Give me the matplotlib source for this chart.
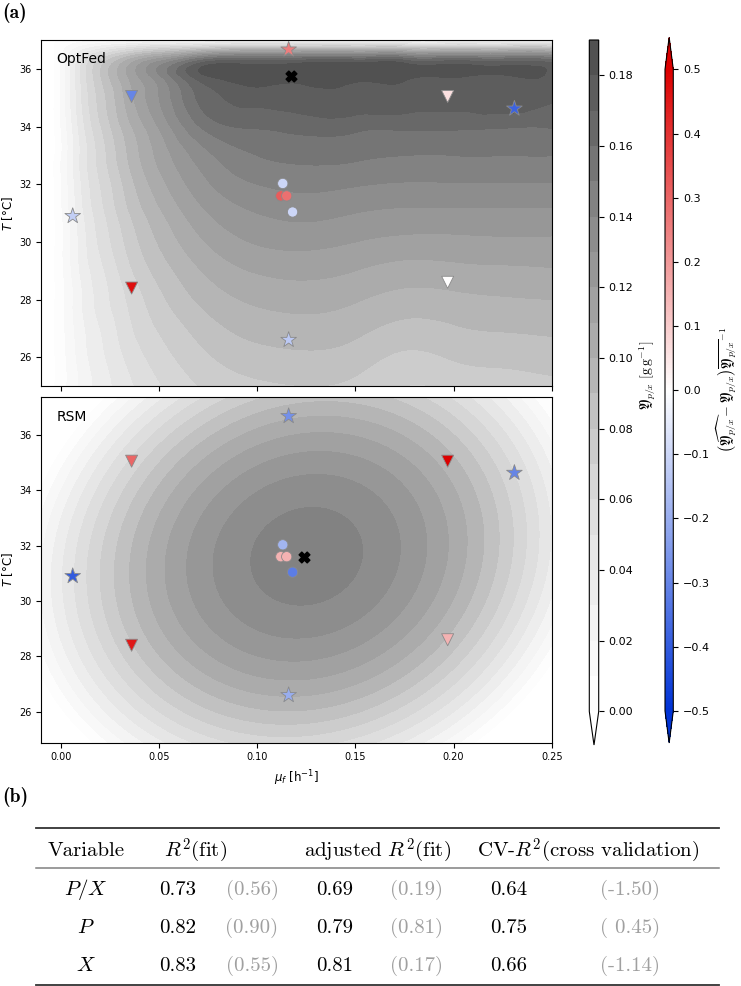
import numpy as np
import matplotlib.pyplot as plt
import matplotlib.tri as mtri
from matplotlib.colors import ListedColormap, LinearSegmentedColormap, Normalize
from matplotlib.cm import ScalarMappable

# OptFed yield surface (rows: T, columns: mu_f)
mu_opt = [-0.01, 0.0, 0.01, 0.02, 0.035, 0.05, 0.075, 0.10, 0.125, 0.15, 0.175, 0.20, 0.225, 0.25]
T_opt = [25, 26, 27, 28, 29, 30, 31, 32, 33, 34, 35, 35.75, 36.3, 36.7, 37.0]
yield_opt = [
    [-0.008, 0.005, 0.022, 0.034, 0.048, 0.059, 0.072, 0.078, 0.080, 0.077, 0.070, 0.072, 0.075, 0.077],
    [-0.009, 0.005, 0.024, 0.037, 0.053, 0.065, 0.079, 0.086, 0.088, 0.085, 0.078, 0.081, 0.083, 0.085],
    [-0.010, 0.006, 0.026, 0.040, 0.058, 0.071, 0.086, 0.094, 0.096, 0.093, 0.087, 0.089, 0.091, 0.092],
    [-0.010, 0.006, 0.028, 0.044, 0.062, 0.077, 0.094, 0.102, 0.104, 0.101, 0.096, 0.097, 0.099, 0.100],
    [-0.011, 0.007, 0.031, 0.047, 0.068, 0.084, 0.102, 0.111, 0.113, 0.110, 0.106, 0.107, 0.108, 0.109],
    [-0.012, 0.007, 0.033, 0.052, 0.074, 0.091, 0.111, 0.121, 0.123, 0.120, 0.117, 0.117, 0.118, 0.118],
    [-0.013, 0.008, 0.036, 0.056, 0.080, 0.098, 0.120, 0.130, 0.133, 0.130, 0.128, 0.128, 0.128, 0.128],
    [-0.014, 0.009, 0.039, 0.060, 0.086, 0.106, 0.129, 0.140, 0.143, 0.141, 0.139, 0.139, 0.139, 0.139],
    [-0.015, 0.009, 0.041, 0.064, 0.092, 0.113, 0.138, 0.150, 0.153, 0.152, 0.150, 0.150, 0.150, 0.150],
    [-0.016, 0.010, 0.044, 0.069, 0.098, 0.121, 0.154, 0.161, 0.164, 0.163, 0.162, 0.162, 0.161, 0.161],
    [-0.018, 0.011, 0.048, 0.074, 0.106, 0.130, 0.166, 0.174, 0.176, 0.176, 0.175, 0.174, 0.173, 0.172],
    [-0.019, 0.011, 0.050, 0.079, 0.112, 0.138, 0.180, 0.186, 0.187, 0.187, 0.185, 0.181, 0.178, 0.176],
    [-0.017, 0.010, 0.046, 0.072, 0.103, 0.127, 0.165, 0.169, 0.172, 0.172, 0.171, 0.169, 0.166, 0.164],
    [-0.010, 0.006, 0.026, 0.040, 0.057, 0.070, 0.086, 0.093, 0.095, 0.095, 0.094, 0.093, 0.092, 0.091],
    [-0.002, 0.001, 0.005, 0.008, 0.012, 0.015, 0.018, 0.020, 0.020, 0.020, 0.020, 0.020, 0.020, 0.020],
]

# RSM quadratic model (coded: u=(mu-mu_c)/0.1, w=(T-T_c)/5)
rsm_center = [0.123, 31.6]
rsm_coef = {'b0': 0.1455, 'bu': 0.003, 'bw': 0.0, 'buu': -0.069, 'bww': -0.045, 'buw': 0.012}

# experiments
mu_exp = [0.006, 0.116, 0.116, 0.231, 0.036, 0.036, 0.197, 0.197, 0.113, 0.112, 0.115, 0.118]
T_exp = [30.9, 36.68, 26.6, 34.63, 35.05, 28.4, 35.05, 28.6, 32.03, 31.6, 31.6, 31.04]
kind_exp = ['*', '*', '*', '*', 'v', 'v', 'v', 'v', 'o', 'o', 'o', 'o']
err_opt = [-0.12, 0.25, -0.13, -0.38, -0.30, 0.47, 0.06, 0.0, -0.10, 0.32, 0.28, -0.10]
err_rsm = [-0.40, -0.27, -0.20, -0.30, 0.30, 0.45, 0.50, 0.15, -0.18, 0.15, 0.15, -0.32]
opt_opt = [0.1173, 35.77]
opt_rsm = [0.1239, 31.6]

# table (b)
tab_vars = [r'$P/X$', r'$P$', r'$X$']
r2_fit = [0.73, 0.82, 0.83]
r2_fit_ref = [0.56, 0.90, 0.55]
r2_adj = [0.69, 0.79, 0.81]
r2_adj_ref = [0.19, 0.81, 0.17]
r2_cv = [0.64, 0.75, 0.66]
r2_cv_ref = [-1.50, 0.45, -1.14]

W, H = 741, 986
fig = plt.figure(figsize=(W / 100, H / 100), dpi=100)

# overlay for panel letters and table, pixel coords
ov = fig.add_axes([0, 0, 1, 1])
ov.set_xlim(0, W)
ov.set_ylim(H, 0)
ov.axis('off')

ax1 = fig.add_axes([41.3 / W, 1 - 386 / H, 510.4 / W, 345.7 / H])
ax2 = fig.add_axes([41.3 / W, 1 - 742.7 / H, 510.4 / W, 346 / H], sharex=ax1)

g = plt.cm.Greys(np.linspace(0, 1, 256))
g[:, :3] = 1 - 0.7 * (1 - g[:, :3])
grey_cmap = ListedColormap(g)
grey_cmap.set_under('white')
err_cmap = LinearSegmentedColormap.from_list('err', ['#0033d6', '#ffffff', '#dc0000'])
err_norm = Normalize(-0.5, 0.5)
levels = np.linspace(0, 0.19, 20)

# smooth the OptFed table with matplotlib's own triangulation refiner
MU, TT = np.meshgrid(mu_opt, T_opt)
tri_n = mtri.Triangulation(MU.ravel() / 0.26, TT.ravel() / 12.0)
z = np.array(yield_opt).ravel()
interp = mtri.CubicTriInterpolator(tri_n, z, kind='min_E')
tri_r, z_r = mtri.UniformTriRefiner(tri_n).refine_field(z, triinterpolator=interp, subdiv=4)
tri_r = mtri.Triangulation(tri_r.x * 0.26, tri_r.y * 12.0, tri_r.triangles)
cs = ax1.tricontourf(tri_r, np.minimum(z_r, 0.1895), levels=levels, cmap=grey_cmap, extend='min')

mu_g, T_g = np.meshgrid(np.linspace(-0.01, 0.25, 300), np.linspace(24.88, 37.38, 300))
u = (mu_g - rsm_center[0]) / 0.1
w = (T_g - rsm_center[1]) / 5
c = rsm_coef
yield_rsm = c['b0'] + c['bu'] * u + c['bw'] * w + c['buu'] * u ** 2 + c['bww'] * w ** 2 + c['buw'] * u * w
ax2.contourf(mu_g, T_g, yield_rsm, levels=levels, cmap=grey_cmap, extend='min')

sizes = {'*': 140, 'v': 75, 'o': 55}
for ax, err, opt in [(ax1, err_opt, opt_opt), (ax2, err_rsm, opt_rsm)]:
    for m in ['*', 'v', 'o']:
        idx = [i for i, k in enumerate(kind_exp) if k == m]
        ax.scatter([mu_exp[i] for i in idx], [T_exp[i] for i in idx], c=[err[i] for i in idx],
                   cmap=err_cmap, norm=err_norm, marker=m, s=sizes[m],
                   edgecolors='#8a8a8a', linewidths=0.6, zorder=3)
    ax.scatter([opt[0]], [opt[1]], marker='X', s=60, color='black', zorder=4)
    ax.tick_params(labelsize=7)
    ax.set_ylabel(r'$T$ [°C]', fontsize=8.5, labelpad=3)

ax1.set_xlim(-0.01, 0.25)
ax1.set_ylim(25, 37)
ax2.set_ylim(24.88, 37.38)
ax1.set_yticks([26, 28, 30, 32, 34, 36])
ax2.set_yticks([26, 28, 30, 32, 34, 36])
ax2.set_xticks([0.0, 0.05, 0.10, 0.15, 0.20, 0.25])
ax1.tick_params(labelbottom=False)
ax2.set_xlabel(r'$\mu_f$ [h$^{-1}$]', fontsize=8.5)
ax1.text(0.03, 0.965, 'OptFed', transform=ax1.transAxes, fontsize=10, va='top')
ax2.text(0.03, 0.962, 'RSM', transform=ax2.transAxes, fontsize=10, va='top')

# colorbars
cax1 = fig.add_axes([589.3 / W, 1 - 745 / H, 9.4 / W, 705 / H])
cb1 = fig.colorbar(cs, cax=cax1, ticks=[0.0, 0.02, 0.04, 0.06, 0.08, 0.10, 0.12, 0.14, 0.16, 0.18])
cb1.ax.tick_params(labelsize=8)
cb1.set_label(r'$\mathfrak{Y}_{p/x}\ [\mathrm{g\,g^{-1}}]$', fontsize=10, math_fontfamily='cm', labelpad=3)

cax2 = fig.add_axes([665 / W, 1 - 743 / H, 8.3 / W, 705.7 / H])
cb2 = fig.colorbar(ScalarMappable(norm=err_norm, cmap=err_cmap), cax=cax2, extend='both',
                   ticks=[-0.5, -0.4, -0.3, -0.2, -0.1, 0.0, 0.1, 0.2, 0.3, 0.4, 0.5])
cb2.ax.tick_params(labelsize=8)
cb2.set_label(r'$\left(\widehat{\mathfrak{Y}_{p/x}} - \mathfrak{Y}_{p/x}\right)\overline{\mathfrak{Y}_{p/x}}^{-1}$',
              fontsize=10, math_fontfamily='cm', labelpad=3)

# panel letters
ov.text(2, 3, '(a)', fontfamily='cmb10', fontsize=14, va='top', ha='left')
ov.text(2, 797, '(b)', fontfamily='cmb10', fontsize=14, va='center', ha='left')

# table
tk = dict(fontfamily='cmr10', math_fontfamily='cm', fontsize=15, va='center', ha='center')
ov.plot([36, 719], [828, 828], color='#333333', lw=1.3)
ov.plot([36, 719], [868, 868], color='#808080', lw=1.1)
ov.plot([36, 719], [985, 985], color='#333333', lw=1.3)
ov.text(86, 851, 'Variable', **tk)
ov.text(196, 851, r'$R^2$(fit)', **tk)
ov.text(378, 851, r'adjusted $R^2$(fit)', **tk)
ov.text(588, 851, r'CV-$R^2$(cross validation)', **tk)
row_y = [890, 928, 966]
for i in range(3):
    y = row_y[i]
    ov.text(86, y, tab_vars[i], **tk)
    ov.text(178, y, '%.2f' % r2_fit[i], **tk)
    ov.text(252, y, '(%.2f)' % r2_fit_ref[i], color='#a0a0a0', **tk)
    ov.text(335, y, '%.2f' % r2_adj[i], **tk)
    ov.text(417, y, '(%.2f)' % r2_adj_ref[i], color='#a0a0a0', **tk)
    ov.text(509, y, '%.2f' % r2_cv[i], **tk)
    ov.text(630, y, '({: .2f})'.format(r2_cv_ref[i]), color='#a0a0a0', **tk)

fig.savefig('out.png', dpi=100)
